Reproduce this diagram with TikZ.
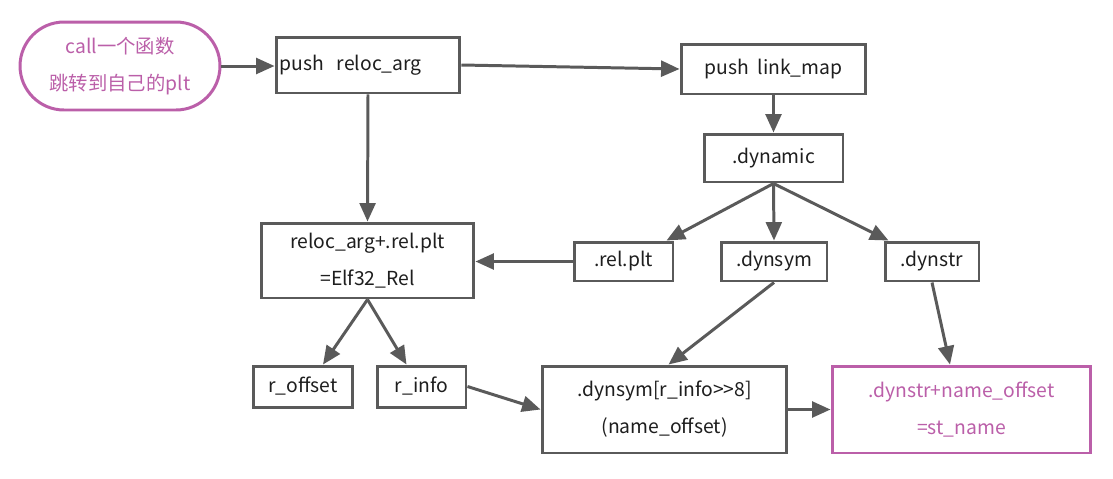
\documentclass[tikz,border=0pt]{standalone}
\usepackage{fontspec}
\setmainfont{Noto Sans CJK SC}
\usepackage{tikz}
\usetikzlibrary{arrows.meta}
\definecolor{cline}{HTML}{5A5A5A}
\definecolor{cpink}{HTML}{BB5FA9}
\definecolor{ctext}{HTML}{1E1E1E}

\tikzset{
  box/.style={draw=cline, line width=1.7pt, fill=white, text=ctext, inner sep=0pt,
    align=center, font=\fontsize{11}{21}\selectfont},
  pinkbox/.style={box, draw=cpink, text=cpink},
  startbox/.style={pinkbox, rounded corners=0.88cm, minimum width=4cm, minimum height=1.76cm},
  flow/.style={draw=cline, line width=1.7pt, -{Triangle[length=10.5pt,width=9pt]}},
}

\begin{document}
\begin{tikzpicture}[x=0.02cm,y=-0.02cm]
  \useasboundingbox (0,0) rectangle (1113,478);
  % top row
  \node[startbox] (call) at (120,66) {call一个函数\\跳转到自己的plt};
  \node[box,minimum width=3.68cm,minimum height=1.12cm,text width=3.54cm,align=left,inner xsep=0.07cm] (pushreloc) at (368,65) {push~~reloc\_arg};
  \node[box,minimum width=3.7cm,minimum height=1cm] (pushlink) at (773.5,69) {push~~link\_map};
  \node[box,minimum width=2.78cm,minimum height=0.96cm] (dynamic) at (773.5,158) {.dynamic};
  % middle row
  \node[box,minimum width=4.26cm,minimum height=1.5cm] (relarg) at (367.5,260.5) {reloc\_arg+.rel.plt\\=Elf32\_Rel};
  \node[box,minimum width=1.98cm,minimum height=0.78cm] (relplt) at (623.5,261.5) {.rel.plt};
  \node[box,minimum width=2.12cm,minimum height=0.78cm] (dynsym) at (774,261.5) {.dynsym};
  \node[box,minimum width=1.88cm,minimum height=0.78cm] (dynstr) at (932,261.5) {.dynstr};
  % bottom row
  \node[box,minimum width=2cm,minimum height=0.82cm] (roffset) at (303,386.5) {r\_offset};
  \node[box,minimum width=1.78cm,minimum height=0.82cm] (rinfo) at (421.5,386.5) {r\_info};
  \node[box,minimum width=4.9cm,minimum height=1.74cm] (symidx) at (664.5,409.5) {.dynsym[r\_info>{}>8]\\(name\_offset)};
  \node[pinkbox,minimum width=5.18cm,minimum height=1.74cm] (stname) at (961.5,409.5) {.dynstr+name\_offset\\=st\_name};

  \draw[flow] (call.east) -- (call.east -| pushreloc.west);
  \draw[flow] (pushreloc.east) -- (pushlink.west);
  \draw[flow] (pushreloc.south) -- (relarg.north);
  \draw[flow] (pushlink.south) -- (dynamic.north);
  \draw[flow] (dynamic.south) -- ([xshift=-0.16cm]relplt.north east);
  \draw[flow] (dynamic.south) -- (dynsym.north);
  \draw[flow] (dynamic.south) -- ([xshift=0.1cm]dynstr.north west);
  \draw[flow] (relplt.west) -- (relplt.west -| relarg.east);
  \draw[flow] (relarg.south) -- ([xshift=0.4cm]roffset.north);
  \draw[flow] (relarg.south) -- ([xshift=-0.3cm]rinfo.north);
  \draw[flow] (rinfo.east) -- (symidx.west);
  \draw[flow] (dynsym.south) -- ([xshift=0.08cm]symidx.north);
  \draw[flow] (dynstr.south) -- ([xshift=-0.23cm]stname.north);
  \draw[flow] (symidx.east) -- (stname.west);
\end{tikzpicture}
\end{document}
